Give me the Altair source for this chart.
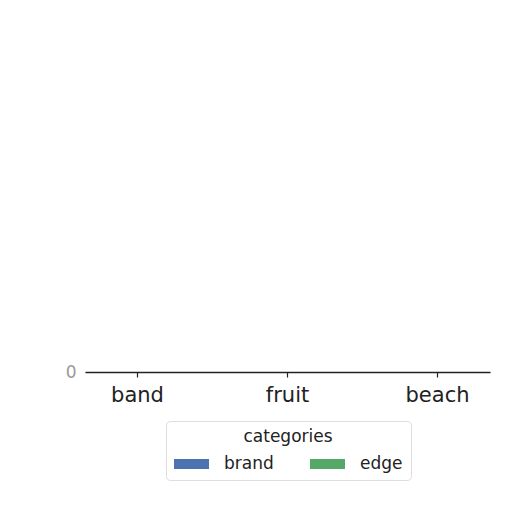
import altair as alt
import pandas as pd

categories = ["band", "fruit", "beach"]
series = ["brand", "edge"]
brand_values = [0, 0, 0]
edge_values = [0, 0, 0]
colors = ["#4c72b0", "#55a868"]

rows = []
for c, b, e in zip(categories, brand_values, edge_values):
    rows.append({"category": c, "series": "brand", "value": b})
    rows.append({"category": c, "series": "edge", "value": e})
df = pd.DataFrame(rows)

FONT = "DejaVu Sans"

chart = alt.Chart(df).mark_bar().encode(
    x=alt.X("category:N", sort=categories, title=None,
            scale=alt.Scale(paddingInner=0.5, paddingOuter=0.1),
            axis=alt.Axis(labelAngle=0, labelFontSize=21, labelColor="#222222",
                          labelFont=FONT, domainColor="#222222", domainWidth=1.5,
                          tickColor="#222222", tickSize=5, tickWidth=1.2,
                          labelPadding=7, grid=False)),
    xOffset=alt.XOffset("series:N", sort=series),
    y=alt.Y("value:Q", title=None,
            scale=alt.Scale(domain=[0, 1]),
            axis=alt.Axis(values=[0], domain=False, ticks=False, grid=False,
                          labelFontSize=17, labelColor="#999999", labelFont=FONT,
                          labelPadding=9)),
    color=alt.Color("series:N", sort=series,
                    scale=alt.Scale(domain=series, range=colors),
                    legend=alt.Legend(
                        title="categories", orient="none", legendX=81, legendY=411,
                        direction="horizontal", columns=2, columnPadding=36,
                        symbolType="M-1,-0.5H2.5V0.5H-1Z", symbolSize=400,
                        symbolStrokeWidth=0, labelOffset=30,
                        labelFontSize=17, labelFont=FONT, labelColor="#222222",
                        titleFontSize=17, titleFont=FONT, titleFontWeight="normal",
                        titleColor="#222222", titleAnchor="middle", titleAlign="center",
                        titlePadding=8, padding=8, fillColor="white",
                        strokeColor="#dddddd", cornerRadius=4)),
).properties(
    width=405, height=362,
    autosize=alt.AutoSizeParams(type="none"),
    padding={"left": 77, "top": 2, "right": 14, "bottom": 132},
).configure_view(stroke=None)

chart.save("out.html", embed_options={"renderer": "svg", "actions": False})
